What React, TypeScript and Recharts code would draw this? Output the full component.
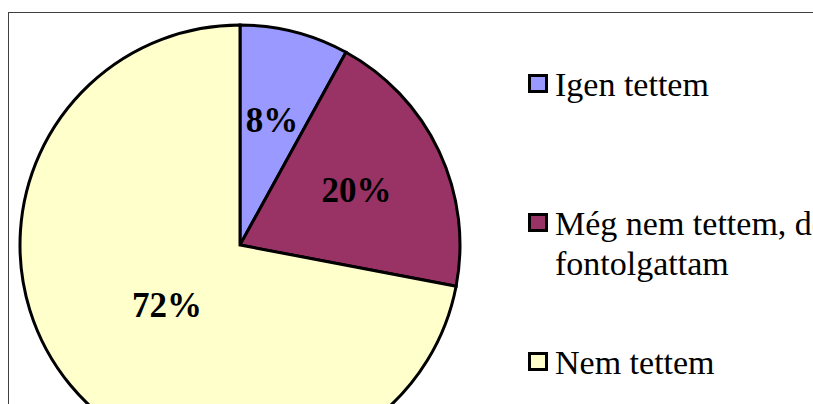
import { PieChart, Pie, Cell, Legend } from "recharts"

const categories = ["Igen tettem", "Még nem tettem, de fontolgattam", "Nem tettem"]
const values = [8, 20, 72]
const COLORS = ["#9999FF", "#993366", "#FFFFCC"]

const data = categories.map((name, i) => ({ name, value: values[i] }))

const RAD = Math.PI / 180
const serif = '"Liberation Serif", "Times New Roman", serif'

const renderLabel = (p: any) => {
  const r = p.outerRadius * (p.percent > 0.5 ? 0.43 : 0.585)
  const x = p.cx + r * Math.cos(-p.midAngle * RAD)
  const y = p.cy + r * Math.sin(-p.midAngle * RAD)
  return (
    <text x={x} y={y} textAnchor="middle" dominantBaseline="central"
      style={{ fontFamily: serif, fontSize: 35, fontWeight: 700, fill: "#000" }}>
      {`${Math.round(p.percent * 100)}%`}
    </text>
  )
}

const renderLegend = (props: any) => (
  <div style={{ fontFamily: serif, fontSize: 34, lineHeight: "40px", color: "#000" }}>
    {(props.payload || []).map((e: any, i: number) => (
      <div key={i} style={{ display: "flex", alignItems: "flex-start", height: 139 }}>
        <span style={{
          display: "inline-block", width: 14, height: 13, marginTop: 9, marginRight: 7,
          background: e.color, border: "3px solid #000", flexShrink: 0,
        }} />
        <span style={{ width: 300, fontFamily: serif }}>{e.value}</span>
      </div>
    ))}
  </div>
)

export default function App() {
  return (
    <div style={{ position: "fixed", left: 0, top: 0, width: 813, height: 404, overflow: "hidden", background: "#fff" }}>
      <div style={{ position: "absolute", left: 8, top: 12, width: 1200, height: 1200, border: "1px solid #404040" }} />
      <div style={{ position: "absolute", left: 0, top: 0 }}>
        <PieChart width={900} height={500} margin={{ top: 0, right: 0, bottom: 0, left: 0 }}>
          <Pie data={data} dataKey="value" nameKey="name" cx={240} cy={245} outerRadius={220}
            startAngle={90} endAngle={-270} stroke="#000" strokeWidth={3}
            label={renderLabel} labelLine={false} isAnimationActive={false}>
            {data.map((d, i) => <Cell key={d.name} fill={COLORS[i]} />)}
          </Pie>
          <Legend layout="vertical" align="right" verticalAlign="middle" content={renderLegend}
            wrapperStyle={{ left: 528, top: 65, width: 400 }} />
        </PieChart>
      </div>
    </div>
  )
}
